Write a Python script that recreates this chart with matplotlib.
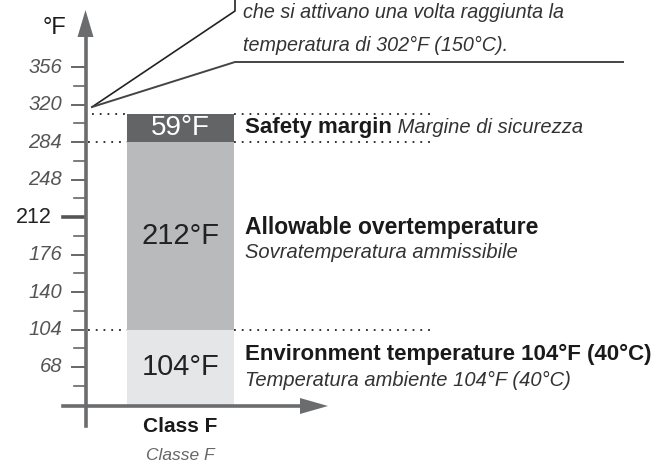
import numpy as np
import matplotlib
matplotlib.use('Agg')
from matplotlib import pyplot as plt
from matplotlib.patches import Polygon

plt.rcParams['font.family'] = ['Liberation Sans', 'DejaVu Sans']

# temperature bands in °C (bottom to top)
band_c = np.array([40, 100, 15])
band_colors = ['#e5e6e7', '#b9babc', '#636466']
band_text_colors = ['#222222', '#222222', '#ffffff']

band_titles = ['Environment temperature 104°F (40°C)',
               'Allowable overtemperature',
               'Safety margin']
band_subtitles = ['Temperatura ambiente 104°F (40°C)',
                  'Sovratemperatura ammissibile',
                  'Margine di sicurezza']

y_ticks = [68, 104, 140, 176, 212, 248, 284, 320, 356]
y_minor = [50, 86, 122, 158, 194, 230, 266, 302, 338]
callout_lines = ['che si attivano una volta raggiunta la',
                 'temperatura di 302°F (150°C).']


def c_to_f(c):
    return c * 9 / 5 + 32


if __name__ == '__main__':
    W, H = 666, 466
    fig = plt.figure(figsize=(W / 100, H / 100), dpi=100)

    # main axes: x in pixels, y in °F
    ax = fig.add_axes([0, 0, 1, 1])
    px_per_f = 300 / 288
    y0_px = 404.5  # pixel row of 32°F
    ax.set_xlim(0, W)
    ax.set_ylim(32 - (H - y0_px) / px_per_f, 32 + y0_px / px_per_f)
    ax.axis('off')

    tops = c_to_f(np.cumsum(band_c))
    bottoms = np.concatenate([[32], tops[:-1]])
    labels = c_to_f(band_c)

    bar_x, bar_w = 180.5, 107
    ax.bar(bar_x, tops - bottoms, bottom=bottoms, width=bar_w,
           color=band_colors, linewidth=0, zorder=2)
    for b, t, lab, tc in zip(bottoms, tops, labels, band_text_colors):
        ax.text(bar_x, (b + t) / 2, '%d°F' % lab, ha='center', va='center',
                fontsize=21 if tc != '#ffffff' else 20, color=tc, zorder=3)

    # dotted guides at band boundaries
    for i, yv in enumerate(tops):
        start = 92 if i == 2 else 88
        ax.plot([start, bar_x - bar_w / 2], [yv, yv], color='#222222',
                lw=1.3, ls=(0, (1, 3.3)), zorder=1)
        ax.plot([bar_x + bar_w / 2, 433], [yv, yv], color='#222222',
                lw=1.3, ls=(0, (1, 3.3)), zorder=1)

    # band descriptions
    t = ax.text(245, tops[2] - 13.5, band_titles[2], fontsize=16,
                weight='bold', color='#1a1a1a', va='center')
    ax.annotate(' ' + band_subtitles[2], xy=(1, 0.5), xycoords=t,
                fontsize=14.5, style='italic', color='#333333', va='center')
    ax.text(245, 212 - 10, band_titles[1], fontsize=16.5, weight='bold',
            color='#1a1a1a', va='center')
    ax.text(245, 212 - 34, band_subtitles[1], fontsize=14.5,
            style='italic', color='#333333', va='center')
    ax.text(245, 80, band_titles[0], fontsize=16, weight='bold',
            color='#1a1a1a', va='center')
    ax.text(245, 55, band_subtitles[0], fontsize=14.5,
            style='italic', color='#333333', va='center')

    # y ticks
    for t in y_ticks:
        if t == 212:
            ax.plot([63, 85], [t, t], color='#555555', lw=2.6, zorder=4)
            ax.text(52, t, str(t), ha='right', va='center', fontsize=15.5,
                    color='#222222')
        else:
            ax.plot([72, 85], [t, t], color='#666666', lw=1.4, zorder=4)
            ax.text(62, t, str(t), ha='right', va='center', fontsize=14.5,
                    style='italic', color='#555555')
    for t in y_minor:
        ax.plot([74, 85], [t, t], color='#666666', lw=1.2, zorder=4)

    # decoration layer in pixel coordinates
    deco = fig.add_axes([0, 0, 1, 1])
    deco.set_xlim(0, W)
    deco.set_ylim(H, 0)
    deco.axis('off')
    deco.patch.set_alpha(0)

    axis_c = '#6b6c6e'
    deco.plot([85.5, 85.5], [426, 30], color=axis_c, lw=2.6)
    deco.add_patch(Polygon([[77.5, 37], [93.5, 37], [85.5, 10]],
                           closed=True, color=axis_c, lw=0))
    deco.plot([63, 305], [406, 406], color=axis_c, lw=2.6)
    deco.add_patch(Polygon([[300, 398], [300, 414], [328, 406]],
                           closed=True, color=axis_c, lw=0))
    deco.text(54, 28, '°F', ha='center', va='center', fontsize=17,
              color='#1a1a1a')

    deco.text(bar_x, 426, 'Class F', ha='center', va='center', fontsize=15,
              weight='bold', color='#1a1a1a')
    deco.text(bar_x, 456, 'Classe F', ha='center', va='center', fontsize=12.5,
              style='italic', color='#666666')

    # callout
    deco.plot([92, 235, 235], [107, 11, 0], color='#222222', lw=1.2)
    deco.plot([92, 235, 623], [107, 62, 62], color='#444444', lw=1.4)
    deco.text(243, 12, callout_lines[0], fontsize=14.2, style='italic',
              color='#333333', va='center')
    deco.text(243, 45, callout_lines[1], fontsize=14.2, style='italic',
              color='#333333', va='center')

    plt.savefig('out.png', dpi=100)
